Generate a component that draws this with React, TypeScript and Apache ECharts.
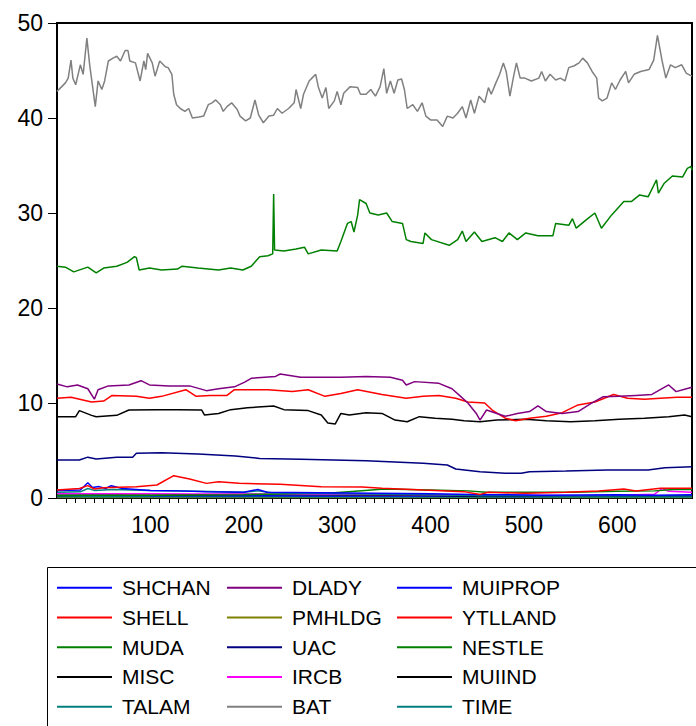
import React, { useEffect, useRef } from "react";
import * as echarts from "echarts";

type P = [number, number];

const legendOrder = [
  "SHCHAN", "DLADY", "MUIPROP",
  "SHELL", "PMHLDG", "YTLLAND",
  "MUDA", "UAC", "NESTLE",
  "MISC", "IRCB", "MUIIND",
  "TALAM", "BAT", "TIME",
];

const yTicks = [0, 10, 20, 30, 40, 50];
const xLabelTicks = [100, 200, 300, 400, 500, 600];

const bat: P[] = [[0,42.8],[9,43.7],[12,44.2],[15,46.1],[17,44.2],[20,43.5],[25,45.6],[28,44.6],[32,48.4],[35,45.6],[41,41.2],[44,43.9],[48,43.0],[51,43.9],[55,46.0],[60,46.3],[64,46.5],[68,46.0],[73,47.1],[76,47.1],[78,46.0],[84,45.8],[89,43.9],[93,46.0],[95,45.1],[97,46.8],[102,45.8],[105,44.4],[110,46.0],[116,45.4],[119,45.3],[123,44.6],[125,42.5],[128,41.4],[132,41.0],[137,40.7],[141,41.0],[145,40.0],[152,40.1],[157,40.2],[162,41.4],[166,41.6],[170,41.9],[175,41.4],[178,40.7],[182,41.2],[187,41.6],[193,40.9],[196,40.2],[202,39.7],[207,40.0],[212,41.9],[216,40.3],[221,39.5],[227,40.2],[232,40.3],[236,41.0],[241,40.5],[248,41.0],[254,41.6],[256,43.0],[261,41.0],[264,42.5],[270,43.9],[273,44.2],[277,44.6],[280,43.2],[284,42.1],[288,43.2],[291,41.0],[297,41.8],[300,42.8],[304,41.4],[307,42.6],[314,43.3],[322,43.2],[325,42.5],[331,42.5],[336,43.0],[341,42.3],[346,43.3],[350,45.2],[353,42.6],[357,43.9],[361,42.6],[365,44.0],[369,44.1],[372,43.0],[375,41.0],[381,41.4],[386,40.7],[391,41.6],[395,40.2],[400,39.8],[407,39.8],[413,39.1],[418,40.2],[424,40.0],[429,40.5],[434,41.2],[438,40.0],[443,41.9],[447,40.5],[452,42.3],[458,41.6],[462,43.2],[465,42.5],[470,43.7],[474,44.6],[478,45.8],[481,44.9],[485,42.3],[489,44.4],[492,45.8],[496,44.2],[501,44.2],[508,43.9],[516,44.2],[519,44.9],[523,43.9],[528,44.6],[534,44.0],[539,44.2],[544,43.9],[548,45.3],[554,45.5],[559,45.8],[563,46.3],[568,45.8],[573,44.9],[578,44.2],[580,42.1],[584,41.8],[589,42.1],[594,43.7],[598,43.0],[603,44.0],[609,44.9],[612,43.7],[618,44.6],[625,44.9],[634,45.1],[639,46.1],[643,48.7],[648,46.0],[652,44.2],[657,45.6],[662,45.3],[669,45.6],[674,44.7],[680,44.4]];

const nestle: P[] = [[0,24.4],[9,24.3],[18,23.8],[33,24.3],[42,23.7],[50,24.2],[64,24.4],[75,24.8],[83,25.4],[85,25.3],[88,24.0],[99,24.2],[112,24.0],[129,24.1],[134,24.4],[151,24.2],[173,24.0],[186,24.2],[199,24.0],[208,24.4],[217,25.4],[226,25.5],[231,25.7],[232,32.0],[233,26.1],[243,26.0],[256,26.2],[265,26.4],[269,25.7],[283,26.1],[300,26.0],[304,27.0],[311,28.9],[315,29.1],[318,28.0],[322,29.8],[324,31.4],[331,31.0],[335,30.0],[344,29.8],[353,30.0],[359,29.1],[370,28.9],[374,27.2],[379,27.0],[392,26.8],[394,27.9],[401,27.2],[420,26.6],[429,27.2],[434,28.1],[438,27.0],[447,28.0],[455,27.0],[469,27.4],[477,27.0],[484,27.9],[493,27.2],[502,27.9],[515,27.6],[531,27.6],[534,28.9],[548,28.7],[552,29.4],[556,28.4],[567,29.3],[576,30.0],[583,28.4],[594,29.8],[607,31.2],[615,31.2],[624,31.9],[633,31.7],[642,33.5],[644,32.1],[650,33.1],[659,33.9],[670,33.8],[675,34.7],[679,34.9],[680,34.5]];

const dlady: P[] = [[0,12.0],[11,11.7],[22,11.9],[33,11.5],[40,10.4],[44,11.4],[55,11.8],[77,11.9],[90,12.35],[99,11.9],[120,11.8],[142,11.8],[160,11.3],[173,11.5],[190,11.7],[201,12.2],[208,12.6],[234,12.8],[239,13.05],[261,12.7],[282,12.7],[304,12.7],[331,12.8],[357,12.7],[370,12.4],[374,11.9],[383,12.25],[409,12.07],[423,11.5],[431,10.8],[440,10.0],[449,8.9],[453,8.2],[460,9.26],[471,8.9],[480,8.6],[493,8.9],[506,9.1],[515,9.7],[524,9.1],[541,8.9],[558,9.1],[572,9.96],[585,10.67],[602,10.7],[620,10.8],[637,10.9],[655,11.9],[663,11.2],[674,11.5],[680,11.65]];

const shell: P[] = [[0,10.5],[15,10.6],[37,10.1],[50,10.2],[59,10.8],[85,10.7],[99,10.5],[112,10.7],[138,11.4],[149,10.7],[164,10.8],[182,10.8],[190,11.4],[208,11.4],[226,11.4],[252,11.2],[269,11.4],[287,10.7],[304,11.0],[322,11.4],[348,10.9],[374,10.5],[392,10.7],[409,10.8],[427,10.5],[440,10.1],[458,10.0],[466,9.26],[480,8.4],[491,8.14],[506,8.4],[524,8.6],[541,8.98],[558,9.8],[576,10.1],[596,10.9],[611,10.5],[629,10.4],[646,10.5],[664,10.6],[680,10.6]];

const misc: P[] = [[0,8.56],[20,8.56],[24,9.2],[37,8.7],[42,8.56],[64,8.7],[77,9.26],[107,9.3],[129,9.3],[155,9.26],[158,8.73],[173,8.9],[186,9.3],[204,9.5],[232,9.68],[243,9.3],[269,9.2],[283,8.73],[290,7.9],[298,7.8],[304,8.9],[313,8.73],[331,8.98],[348,8.9],[362,8.2],[375,8.03],[388,8.56],[405,8.4],[423,8.3],[436,8.14],[453,8.03],[471,8.2],[502,8.3],[524,8.14],[550,8.03],[576,8.14],[602,8.3],[629,8.4],[655,8.56],[672,8.73],[680,8.56]];

const uac: P[] = [[0,4.0],[24,4.0],[33,4.3],[42,4.1],[64,4.28],[81,4.28],[85,4.7],[112,4.77],[151,4.63],[191,4.42],[217,4.17],[261,4.07],[331,3.93],[392,3.65],[418,3.47],[427,3.05],[453,2.77],[480,2.6],[497,2.6],[506,2.77],[545,2.84],[589,2.95],[633,2.95],[651,3.19],[680,3.3]];

const ytlland: P[] = [[0,0.84],[24,1.0],[33,1.3],[40,0.95],[50,1.09],[85,1.19],[107,1.37],[125,2.35],[142,2.0],[160,1.54],[173,1.72],[195,1.54],[239,1.44],[283,1.19],[327,1.16],[348,1.02],[392,0.84],[436,0.67],[453,0.38],[462,0.6],[502,0.49],[545,0.6],[580,0.74],[607,0.95],[620,0.74],[646,1.02],[680,1.02]];

const shchan: P[] = [[0,0.8],[25,0.85],[33,1.6],[38,1.1],[45,1.2],[52,1.0],[58,1.3],[70,1.0],[100,0.8],[130,0.75],[160,0.65],[200,0.6],[215,0.9],[225,0.6],[280,0.55],[340,0.5],[400,0.45],[460,0.35],[520,0.3],[600,0.35],[640,0.3],[680,0.35]];

const talam: P[] = [[0,0.6],[25,0.65],[33,1.0],[40,0.8],[60,0.9],[100,0.8],[150,0.7],[200,0.6],[215,0.75],[230,0.55],[300,0.45],[400,0.35],[450,0.25],[550,0.2],[680,0.2]];

const muda: P[] = [[0,0.3],[100,0.3],[200,0.35],[290,0.5],[330,0.8],[350,0.95],[400,0.85],[440,0.75],[460,0.6],[550,0.6],[600,0.7],[640,0.75],[660,0.9],[680,0.9]];

const ircb: P[] = [[0,0.45],[100,0.45],[200,0.4],[300,0.4],[400,0.35],[450,0.3],[500,0.3],[560,0.25],[600,0.3],[640,0.4],[648,1.0],[655,0.7],[680,0.6]];

const muiprop: P[] = [[0,0.3],[50,0.3],[100,0.25],[200,0.25],[300,0.2],[400,0.2],[500,0.15],[600,0.2],[680,0.2]];

const pmhldg: P[] = [[0,0.05],[100,0.06],[200,0.05],[300,0.04],[400,0.05],[500,0.04],[600,0.05],[680,0.05]];

const muiind: P[] = [[0,0.25],[40,0.3],[100,0.3],[190,0.4],[300,0.35],[380,0.3],[450,0.2],[550,0.2],[680,0.2]];

const time: P[] = [[0,0.12],[200,0.12],[400,0.1],[680,0.1]];

// drawing order (bottom to top)
const seriesDefs: { name: string; color: string; data: P[] }[] = [
  { name: "PMHLDG", color: "#808000", data: pmhldg },
  { name: "TIME", color: "#008080", data: time },
  { name: "MUIPROP", color: "#0000ff", data: muiprop },
  { name: "MUIIND", color: "#000000", data: muiind },
  { name: "IRCB", color: "#ff00ff", data: ircb },
  { name: "MUDA", color: "#008000", data: muda },
  { name: "TALAM", color: "#008080", data: talam },
  { name: "SHCHAN", color: "#0000ff", data: shchan },
  { name: "YTLLAND", color: "#ff0000", data: ytlland },
  { name: "UAC", color: "#000080", data: uac },
  { name: "MISC", color: "#000000", data: misc },
  { name: "SHELL", color: "#ff0000", data: shell },
  { name: "DLADY", color: "#800080", data: dlady },
  { name: "NESTLE", color: "#008000", data: nestle },
  { name: "BAT", color: "#808080", data: bat },
];

const FONT = "'Liberation Sans', Arial, Helvetica, sans-serif";

export default function App() {
  const ref = useRef<HTMLDivElement>(null);
  useEffect(() => {
    if (!ref.current) return;
    const chart = echarts.init(ref.current, undefined, { renderer: "svg" });
    chart.setOption({
      animation: false,
      backgroundColor: "#ffffff",
      grid: {
        left: 57,
        right: 4,
        top: 23,
        bottom: 228,
        show: true,
        borderColor: "#000000",
        borderWidth: 2,
        backgroundColor: "transparent",
      },
      xAxis: {
        type: "value",
        min: 0,
        max: 680,
        interval: 10,
        axisLine: { show: true, lineStyle: { color: "#000", width: 2 } },
        axisTick: { show: true, inside: false, length: 5, lineStyle: { color: "#000", width: 1 } },
        splitLine: { show: false },
        axisLabel: {
          show: true,
          margin: 15,
          fontSize: 23,
          fontFamily: FONT,
          color: "#000",
          showMinLabel: false,
          showMaxLabel: false,
          formatter: (v: number) => (xLabelTicks.indexOf(v) >= 0 ? String(v) : ""),
        },
      },
      yAxis: {
        type: "value",
        min: yTicks[0],
        max: yTicks[yTicks.length - 1],
        interval: 10,
        axisLine: { show: true, lineStyle: { color: "#000", width: 2 } },
        axisTick: { show: true, inside: false, length: 9, lineStyle: { color: "#000", width: 1 } },
        splitLine: { show: false },
        axisLabel: { margin: 14, fontSize: 23, fontFamily: FONT, color: "#000" },
      },
      legend: {
        data: legendOrder,
        orient: "horizontal",
        left: 57,
        top: 573,
        width: 520,
        padding: 0,
        itemGap: 0,
        itemWidth: 55,
        itemHeight: 2,
        icon: "rect",
        selectedMode: false,
        textStyle: {
          fontSize: 21,
          fontFamily: FONT,
          color: "#000",
          width: 105,
          lineHeight: 29.7,
          padding: [0, 0, 0, 5],
        },
      },
      graphic: [
        {
          type: "rect",
          shape: { x: 47.5, y: 567.5, width: 700, height: 200 },
          style: { fill: "none", stroke: "#000", lineWidth: 1 },
          silent: true,
          z: -1,
        },
      ],
      series: seriesDefs.map((s) => ({
        name: s.name,
        type: "line",
        data: s.data,
        showSymbol: false,
        symbol: "none",
        color: s.color,
        lineStyle: { color: s.color, width: 1.5 },
        itemStyle: { color: s.color },
        emphasis: { disabled: true },
        clip: true,
      })),
    });
    return () => chart.dispose();
  }, []);
  return (
    <div
      ref={ref}
      style={{ position: "fixed", left: 0, top: 0, width: 696, height: 726, background: "#fff" }}
    />
  );
}
